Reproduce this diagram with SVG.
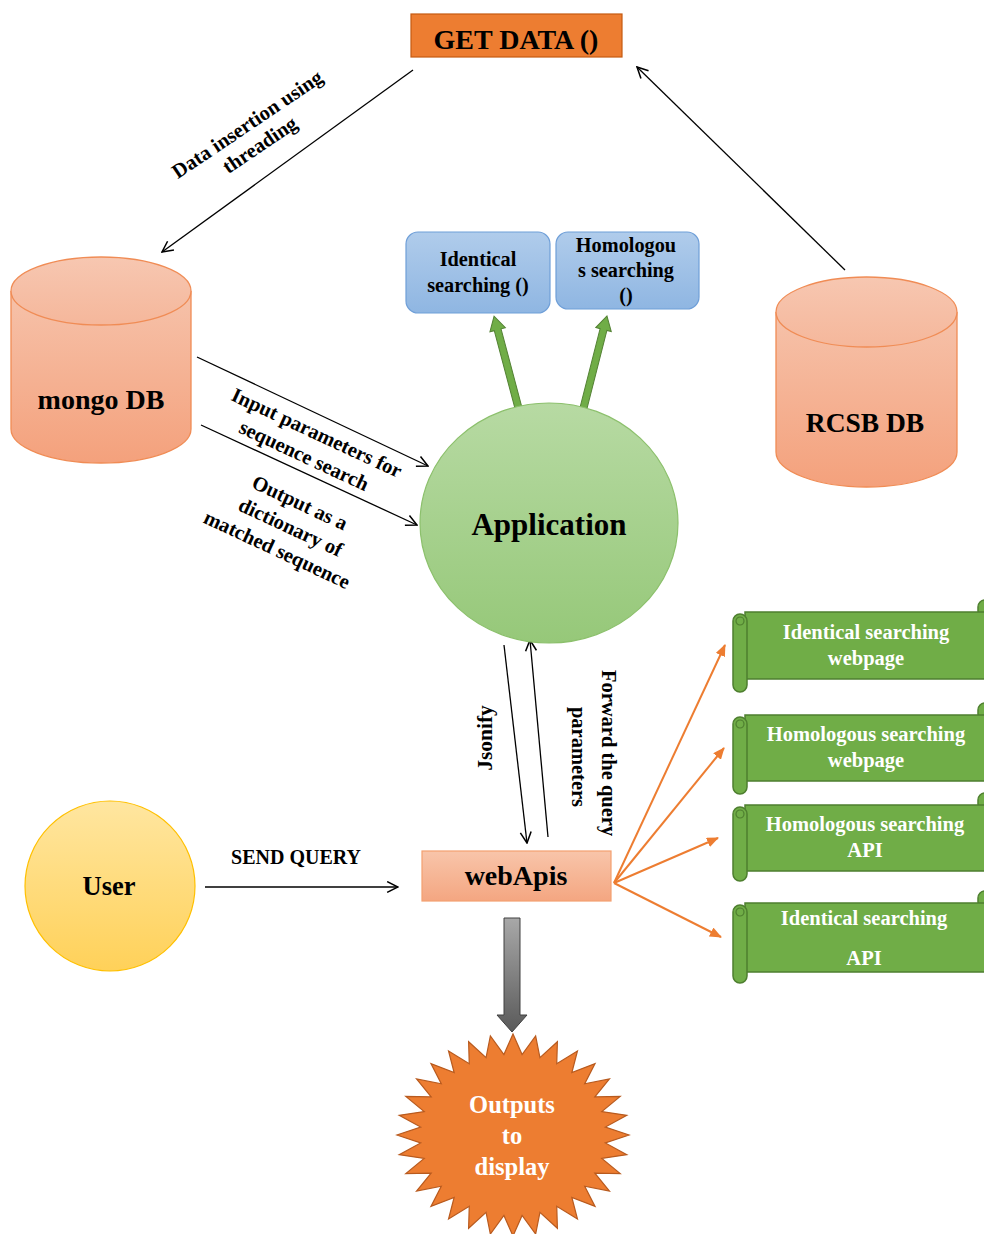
<svg xmlns="http://www.w3.org/2000/svg" width="984" height="1234" viewBox="0 0 984 1234">
<defs>
<style>
text{font-family:"Liberation Serif","Times New Roman",serif;font-weight:bold;text-anchor:middle;fill:#000}
.w{fill:#fff}
.ln{stroke:#000;stroke-width:1.3;fill:none}
.or{stroke:#ED7D31;stroke-width:2;fill:none;marker-end:url(#ah2)}
.scroll{fill:#70AD47;stroke:#4E7F2F;stroke-width:1.5}
.cyl{fill:url(#gCyl);stroke:#F08C55;stroke-width:1.3}
</style>
<linearGradient id="gCyl" x1="0" y1="0" x2="0" y2="1"><stop offset="0" stop-color="#F6C2AA"/><stop offset="1" stop-color="#F4A17C"/></linearGradient>
<linearGradient id="gTop" x1="0" y1="0" x2="0" y2="1"><stop offset="0" stop-color="#F7C7B1"/><stop offset="1" stop-color="#F5B79B"/></linearGradient>
<linearGradient id="gApp" x1="0" y1="0" x2="0" y2="1"><stop offset="0" stop-color="#B7DAA3"/><stop offset="1" stop-color="#96C879"/></linearGradient>
<linearGradient id="gBlue" x1="0" y1="0" x2="0" y2="1"><stop offset="0" stop-color="#B0CCEB"/><stop offset="1" stop-color="#8FB6E2"/></linearGradient>
<linearGradient id="gUser" x1="0" y1="0" x2="0" y2="1"><stop offset="0" stop-color="#FFE6A0"/><stop offset="1" stop-color="#FFD159"/></linearGradient>
<linearGradient id="gWeb" x1="0" y1="0" x2="0" y2="1"><stop offset="0" stop-color="#F8C5AA"/><stop offset="1" stop-color="#F4A681"/></linearGradient>
<linearGradient id="gGray" x1="0" y1="0" x2="0" y2="1"><stop offset="0" stop-color="#A8A8A8"/><stop offset="1" stop-color="#5A5A5A"/></linearGradient>
<marker id="ah" viewBox="0 0 12 12" refX="11" refY="6" markerWidth="13" markerHeight="13" markerUnits="userSpaceOnUse" orient="auto"><path d="M1,1 L11,6 L1,11" fill="none" stroke="#000" stroke-width="1.4"/></marker>
<marker id="ah2" viewBox="0 0 12 10" refX="11" refY="5" markerWidth="12" markerHeight="10" markerUnits="userSpaceOnUse" orient="auto"><path d="M0,0 L12,5 L0,10 z" fill="#ED7D31"/></marker>
</defs>
<rect width="984" height="1234" fill="#fff"/>

<g id="connectors">
<line class="ln" x1="413" y1="70" x2="162" y2="252" marker-end="url(#ah)"/>
<line class="ln" x1="845" y1="270" x2="637" y2="67" marker-end="url(#ah)"/>
<line class="ln" x1="197" y1="357" x2="428" y2="466" marker-end="url(#ah)"/>
<line class="ln" x1="201" y1="425" x2="417" y2="525" marker-end="url(#ah)"/>
<line class="ln" x1="504" y1="645" x2="527" y2="843" marker-end="url(#ah)"/>
<line class="ln" x1="548" y1="837" x2="530" y2="640" marker-end="url(#ah)"/>
<line class="ln" x1="205" y1="887" x2="398" y2="887" marker-end="url(#ah)"/>
<line class="or" x1="614" y1="883" x2="725" y2="645"/>
<line class="or" x1="614" y1="883" x2="724" y2="748"/>
<line class="or" x1="614" y1="883" x2="718" y2="838"/>
<line class="or" x1="614" y1="883" x2="721" y2="937"/>
<polygon transform="translate(519,410) rotate(-14.9)" points="-3.5,0 -3.5,-83 -8,-83 0,-97 8,-83 3.5,-83 3.5,0" fill="#70AD47" stroke="#548235" stroke-width="1"/>
<polygon transform="translate(583,410) rotate(14.3)" points="-3.5,0 -3.5,-83 -8,-83 0,-97 8,-83 3.5,-83 3.5,0" fill="#70AD47" stroke="#548235" stroke-width="1"/>
<polygon points="504,918 520,918 520,1015 527,1015 512,1032 497,1015 504,1015" fill="url(#gGray)" stroke="#404040" stroke-width="1"/>
<g font-size="20.5">
<g transform="translate(251,130) rotate(-34)"><text x="0" y="0">Data insertion using</text><text x="-1" y="24">threading</text></g>
<g transform="translate(314,439) rotate(25)"><text x="0" y="0">Input parameters for</text><text x="-2" y="26">sequence search</text></g>
<g transform="translate(297,509) rotate(25)"><text x="0" y="0">Output as a</text><text x="2" y="26">dictionary of</text><text x="-1" y="52">matched sequence</text></g>
<text transform="translate(492,738) rotate(-90)" x="0" y="0" font-size="21.5">Jsonify</text>
<text transform="translate(602,753) rotate(90)" x="0" y="0">Forward the query</text>
<text transform="translate(572,757) rotate(90)" x="0" y="0">parameters</text>
</g>
<text x="296" y="864" font-size="20">SEND QUERY</text>
</g>

<g id="getdata">
<rect x="411" y="14" width="211" height="43" fill="#ED7D31" stroke="#C55A11" stroke-width="1.2"/>
<text x="516" y="49" font-size="28">GET DATA ()</text>
</g>

<g id="mongodb">
<path class="cyl" d="M11,291 V429 A90,34 0 0,0 191,429 V291"/>
<ellipse cx="101" cy="291" rx="90" ry="34" fill="url(#gTop)" stroke="#F08C55" stroke-width="1.3"/>
<text x="101" y="409" font-size="28">mongo DB</text>
</g>

<g id="rcsbdb">
<path class="cyl" d="M776,312 V452 A90.5,35 0 0,0 957,452 V312"/>
<ellipse cx="866.5" cy="312" rx="90.5" ry="35" fill="url(#gTop)" stroke="#F08C55" stroke-width="1.3"/>
<text x="865" y="432" font-size="27.5">RCSB DB</text>
</g>

<g id="identical">
<rect x="406" y="232" width="144" height="81" rx="12" fill="url(#gBlue)" stroke="#6F9FD8" stroke-width="1.2"/>
<text x="478" y="266" font-size="20.3">Identical</text>
<text x="478" y="292" font-size="20.3">searching ()</text>
</g>

<g id="homologous">
<rect x="556" y="232" width="143" height="77" rx="12" fill="url(#gBlue)" stroke="#6F9FD8" stroke-width="1.2"/>
<text x="626" y="252" font-size="20.3">Homologou</text>
<text x="626" y="277" font-size="20.3">s searching</text>
<text x="626" y="302" font-size="20.3">()</text>
</g>

<g id="application">
<ellipse cx="549" cy="523" rx="129" ry="120" fill="url(#gApp)" stroke="#8CC06C" stroke-width="1.2"/>
<text x="549" y="535" font-size="31">Application</text>
</g>

<g id="webapis">
<rect x="422" y="851" width="189" height="50" fill="url(#gWeb)" stroke="#F4A070" stroke-width="1.2"/>
<text x="516" y="885" font-size="28">webApis</text>
</g>

<g id="user">
<circle cx="110" cy="886" r="85" fill="url(#gUser)" stroke="#FFC000" stroke-width="1.2"/>
<text x="109" y="895" font-size="26.5">User</text>
</g>

<g id="scroll1" transform="translate(733,610)">
<rect class="scroll" x="245" y="-10" width="14" height="18" rx="7"/>
<rect class="scroll" x="12" y="2" width="260" height="67"/>
<rect class="scroll" x="0" y="4" width="14" height="78" rx="7"/>
<circle cx="7" cy="11" r="4" fill="none" stroke="#4E7F2F" stroke-width="1.2"/>
</g>
<g id="scroll2" transform="translate(733,713)">
<rect class="scroll" x="245" y="-10" width="14" height="18" rx="7"/>
<rect class="scroll" x="12" y="2" width="260" height="66"/>
<rect class="scroll" x="0" y="4" width="14" height="77" rx="7"/>
<circle cx="7" cy="11" r="4" fill="none" stroke="#4E7F2F" stroke-width="1.2"/>
</g>
<g id="scroll3" transform="translate(733,803)">
<rect class="scroll" x="245" y="-10" width="14" height="18" rx="7"/>
<rect class="scroll" x="12" y="2" width="260" height="66"/>
<rect class="scroll" x="0" y="4" width="14" height="74" rx="7"/>
<circle cx="7" cy="11" r="4" fill="none" stroke="#4E7F2F" stroke-width="1.2"/>
</g>
<g id="scroll4" transform="translate(733,901)">
<rect class="scroll" x="245" y="-10" width="14" height="18" rx="7"/>
<rect class="scroll" x="12" y="2" width="260" height="69"/>
<rect class="scroll" x="0" y="4" width="14" height="78" rx="7"/>
<circle cx="7" cy="11" r="4" fill="none" stroke="#4E7F2F" stroke-width="1.2"/>
</g>
<g id="scrolltexts" font-size="20.5">
<text class="w" x="866" y="639">Identical searching</text>
<text class="w" x="866" y="665">webpage</text>
<text class="w" x="866" y="741">Homologous searching</text>
<text class="w" x="866" y="767">webpage</text>
<text class="w" x="865" y="831">Homologous searching</text>
<text class="w" x="865" y="857">API</text>
<text class="w" x="864" y="925">Identical searching</text>
<text class="w" x="864" y="965">API</text>
</g>

<g id="outputs">
<polygon transform="translate(513,1135) scale(116,101)" vector-effect="non-scaling-stroke" fill="#ED7D31" stroke="#B85A1E" stroke-width="1.2" points="0,-1 0.0784,-0.7961 0.1951,-0.9808 0.2322,-0.7656 0.3827,-0.9239 0.3771,-0.7055 0.5556,-0.8315 0.5075,-0.6184 0.7071,-0.7071 0.6184,-0.5075 0.8315,-0.5556 0.7055,-0.3771 0.9239,-0.3827 0.7656,-0.2322 0.9808,-0.1951 0.7961,-0.0784 1,0 0.7961,0.0784 0.9808,0.1951 0.7656,0.2322 0.9239,0.3827 0.7055,0.3771 0.8315,0.5556 0.6184,0.5075 0.7071,0.7071 0.5075,0.6184 0.5556,0.8315 0.3771,0.7055 0.3827,0.9239 0.2322,0.7656 0.1951,0.9808 0.0784,0.7961 0,1 -0.0784,0.7961 -0.1951,0.9808 -0.2322,0.7656 -0.3827,0.9239 -0.3771,0.7055 -0.5556,0.8315 -0.5075,0.6184 -0.7071,0.7071 -0.6184,0.5075 -0.8315,0.5556 -0.7055,0.3771 -0.9239,0.3827 -0.7656,0.2322 -0.9808,0.1951 -0.7961,0.0784 -1,0 -0.7961,-0.0784 -0.9808,-0.1951 -0.7656,-0.2322 -0.9239,-0.3827 -0.7055,-0.3771 -0.8315,-0.5556 -0.6184,-0.5075 -0.7071,-0.7071 -0.5075,-0.6184 -0.5556,-0.8315 -0.3771,-0.7055 -0.3827,-0.9239 -0.2322,-0.7656 -0.1951,-0.9808 -0.0784,-0.7961"/>
<text class="w" x="512" y="1113" font-size="24.5">Outputs</text>
<text class="w" x="512" y="1144" font-size="24.5">to</text>
<text class="w" x="512" y="1175" font-size="24.5">display</text>
</g>
</svg>
